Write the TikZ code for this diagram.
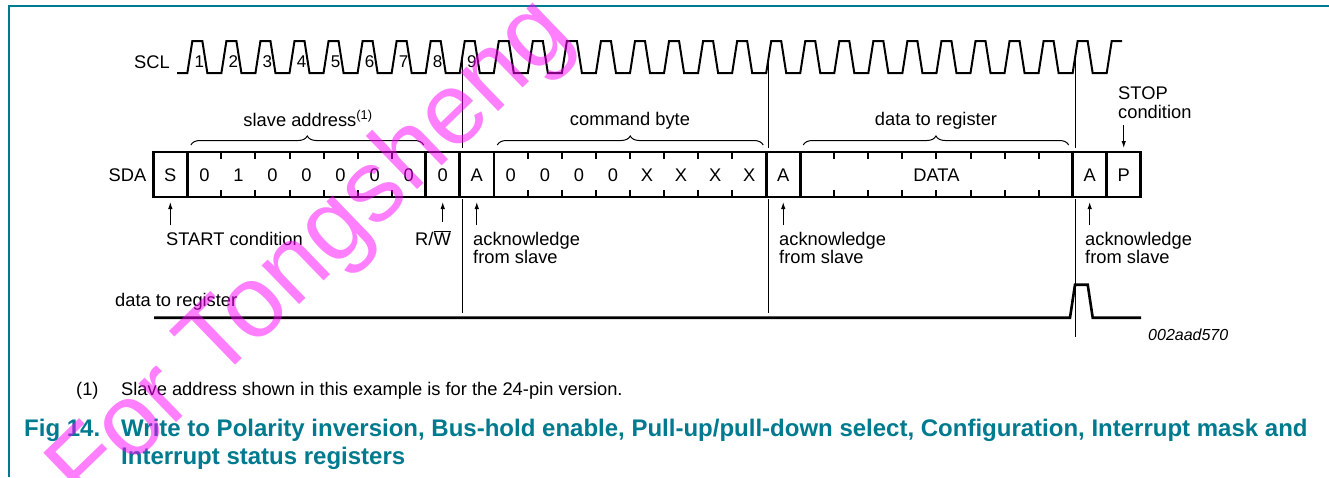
\documentclass[tikz,border=0pt]{standalone}
\usepackage{fontspec}
\setmainfont{Liberation Sans}
\usetikzlibrary{decorations.pathreplacing,arrows.meta}
\definecolor{nxpteal}{RGB}{0,122,142}
\definecolor{wmcol}{RGB}{255,0,255}
\begin{document}
\begin{tikzpicture}[x=1pt,y=-1pt,
  txt/.style={inner sep=0pt, font=\fontsize{18.3}{20}\selectfont},
  num/.style={inner sep=0pt, font=\fontsize{17}{18}\selectfont},
  wave/.style={line width=2pt, line join=miter},
  boxline/.style={line width=2.6pt},
  tickline/.style={line width=2pt},
  marker/.style={line width=1pt},
  arr/.style={line width=1pt, -{Latex[length=7pt,width=4.5pt]}},
  brc/.style={line width=1pt, decorate, decoration={brace, amplitude=9pt}},
  captxt/.style={inner sep=0pt, text=nxpteal, font=\fontsize{24}{26}\selectfont\bfseries}
]
\useasboundingbox (0,0) rectangle (1329,477);
\def\L{153.3}
\def\W{34.05}
% frame
\draw[nxpteal, line width=1.6pt] (9,477) -- (9,6) -- (1329,6);
% SCL waveform
\draw[wave] (177,73) foreach \k in {1,...,27}{ -- ({\L+\k*\W},73) -- ({\L+\k*\W+5},41) -- ({\L+\k*\W+15},41) -- ({\L+\k*\W+20},73)} -- ({\L+28*\W},73) -- ({\L+28*\W+5},41) -- (1122,41);
\foreach \k in {1,...,9} \node[num, anchor=base] (n\k) at ({\L+\k*\W+12},67) {\k};
\node[txt, anchor=base east] (scl) at (170,68.5) {SCL};
% marker lines
\foreach \k/\e in {9/313,18/313,27/337} {
  \draw[marker] ({\L+\k*\W+2.5},57) -- ({\L+\k*\W+2.5},148);
  \draw[marker] ({\L+\k*\W+2.5},199) -- ({\L+\k*\W+2.5},\e);
}
% SDA frame
\draw[boxline] (\L,152) rectangle ({\L+29*\W},197);
\foreach \k in {1,8,9,10,18,19,27,28} \draw[boxline] ({\L+\k*\W},152) -- ({\L+\k*\W},197);
\foreach \k in {2,3,4,5,6,7,11,12,13,14,15,16,17,20,21,22,23,24,25,26} {
  \draw[tickline] ({\L+\k*\W},152) -- ({\L+\k*\W},159);
  \draw[tickline] ({\L+\k*\W},197) -- ({\L+\k*\W},190);
}
\foreach \k/\t in {1/S,2/0,3/1,4/0,5/0,6/0,7/0,8/0,9/0,10/A,11/0,12/0,13/0,14/0,15/X,16/X,17/X,18/X,19/A,28/A,29/P}
  \node[txt, anchor=base] (c\k) at ({\L+(\k-0.5)*\W},181) {\t};
\node[txt, anchor=base] (c20) at ({\L+23*\W},181) {DATA};
\node[txt, anchor=base east] (sda) at (146.5,181.5) {SDA};
% braces
\draw[brc] ({\L+1*\W+3.5},145) -- ({\L+8*\W-2},145);
\draw[brc] ({\L+10*\W+3.5},145) -- ({\L+18*\W-3},145);
\draw[brc] ({\L+19*\W+3},145) -- ({\L+27*\W-4},145);
\node[txt, anchor=base] (slv) at (308,126) {slave address\textsuperscript{(1)}};
\node[txt, anchor=base] (cmd) at (630,125.5) {command byte};
\node[txt, anchor=base] (dtr) at (936,125.5) {data to register};
% STOP
\node[txt, anchor=base west] (stop1) at (1118,99.3) {STOP};
\node[txt, anchor=base west] (stop2) at (1118,118.3) {condition};
\coordinate (stopa) at ({\L+28.5*\W},125);
\coordinate (stopb) at ({\L+28.5*\W},148);
\draw[arr] (stopa) -- (stopb);
% arrows below
\coordinate (sa) at ({\L+0.5*\W},225);  \coordinate (sb) at ({\L+0.5*\W},202);
\coordinate (ra) at ({\L+8.5*\W},222);  \coordinate (rb) at ({\L+8.5*\W},202);
\coordinate (a1a) at ({\L+9.5*\W},225); \coordinate (a1b) at ({\L+9.5*\W},202);
\coordinate (a2a) at ({\L+18.5*\W},225); \coordinate (a2b) at ({\L+18.5*\W},202);
\coordinate (a3a) at ({\L+27.5*\W},225); \coordinate (a3b) at ({\L+27.5*\W},202);
\draw[arr] (sa) -- (sb);
\draw[arr] (ra) -- (rb);
\draw[arr] (a1a) -- (a1b);
\draw[arr] (a2a) -- (a2b);
\draw[arr] (a3a) -- (a3b);
\node[txt, anchor=base west] (startl) at (166,245) {START condition};
\node[txt, anchor=base east] (rw) at (451,245) {R/$\overline{\mbox{W}}$};
\node[txt, anchor=base west] (ack1a) at (473,245) {acknowledge};
\node[txt, anchor=base west] (ack1b) at (473,263.3) {from slave};
\node[txt, anchor=base west] (ack2a) at (779,245) {acknowledge};
\node[txt, anchor=base west] (ack2b) at (779,263.3) {from slave};
\node[txt, anchor=base west] (ack3a) at (1085,245) {acknowledge};
\node[txt, anchor=base west] (ack3b) at (1085,263.3) {from slave};
% data to register line
\node[txt, anchor=base west] (dlab) at (115,306.7) {data to register};
\draw[line width=2.6pt, line join=miter] (154,317.7) -- (1070,317.7) -- (1075,284.7) -- (1087.7,284.7) -- (1092.7,317.7) -- (1141,317.7);
\node[inner sep=0pt, anchor=base west, font=\fontsize{16}{18}\selectfont\itshape] (code) at (1148,340.7) {002aad570};
% footnote
\node[txt, anchor=base west] (fn1) at (76,395) {(1)};
\node[txt, anchor=base west] (fn2) at (121,395) {Slave address shown in this example is for the 24-pin version.};
% caption
\node[captxt, anchor=base west] (fig) at (24,436) {Fig 14.};
\node[captxt, anchor=base west] (cl1) at (121,436) {Write to Polarity inversion, Bus-hold enable, Pull-up/pull-down select, Configuration, Interrupt mask and};
\node[captxt, anchor=base west] (cl2) at (121,464.3) {Interrupt status registers};
% watermark
\node[rotate=44, anchor=base west, inner sep=0pt, text=wmcol, text opacity=0.5, font=\fontsize{102}{104}\selectfont] (wm) at (86,510) {For Tongsheng};
\end{tikzpicture}
\end{document}
